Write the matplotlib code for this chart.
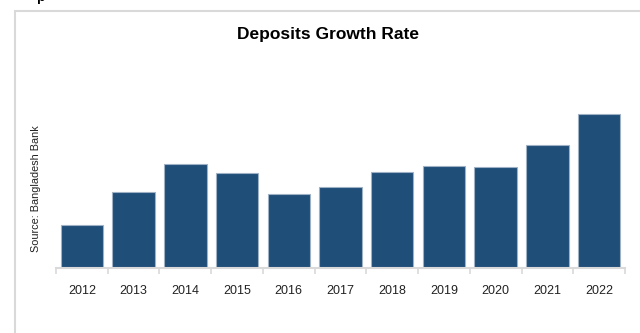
import matplotlib.pyplot as plt
from matplotlib.patches import Rectangle

# data (no y axis in the source)
years = ['2012', '2013', '2014', '2015', '2016', '2017', '2018', '2019', '2020', '2021', '2022']
growth = [4.24, 7.60, 10.37, 9.47, 7.34, 8.04, 9.60, 10.14, 10.04, 12.27, 15.37]

bar_color = '#1F4E79'
grid_gray = '#D9D9D9'
font = ['Liberation Sans', 'DejaVu Sans']

fig = plt.figure(figsize=(6.4, 3.33), dpi=100)
ax = fig.add_axes([56 / 640, 1 - 267.7 / 333, (625 - 56) / 640, (267.7 - 100) / 333])

ax.bar(range(len(years)), growth, width=0.82, color=bar_color,
       edgecolor='#9FB1C4', linewidth=0.8)
ax.set_xlim(-0.5, len(years) - 0.5)
ax.set_ylim(0, 16.77)

# category boundary ticks, labels centred under bars
ax.set_xticks([i - 0.5 for i in range(len(years) + 1)])
ax.set_xticklabels([])
ax.set_xticks(range(len(years)), minor=True)
ax.set_xticklabels(years, minor=True, fontsize=9, family=font, color='#222222')
ax.tick_params(axis='x', which='major', length=4.5, width=1.2, color=grid_gray)
ax.tick_params(axis='x', which='minor', length=0, pad=12.5)
ax.set_yticks([])

for side in ['top', 'right', 'left']:
    ax.spines[side].set_visible(False)
ax.spines['bottom'].set_color(grid_gray)
ax.spines['bottom'].set_linewidth(1.5)

fig.text(328 / 640, 1 - 34 / 333, 'Deposits Growth Rate', ha='center', va='center',
         fontsize=12.5, fontweight='bold', family=font)
fig.text(36 / 640, 1 - 189 / 333, 'Source: Bangladesh Bank', rotation=90,
         ha='center', va='center', fontsize=7.8, family=font, color='#222222')

# outer frame of the chart box
fig.patches.append(Rectangle((15 / 640, -0.1), 1.0, 1 - 11 / 333 + 0.1,
                             transform=fig.transFigure, fill=False,
                             edgecolor=grid_gray, linewidth=1.5))
# clipped text from above the box
fig.text(36.5 / 640, 1 - 1 / 333, 'p', ha='left', va='baseline', fontsize=10,
         fontweight='bold', family=font)

fig.savefig('out.png', dpi=100)
